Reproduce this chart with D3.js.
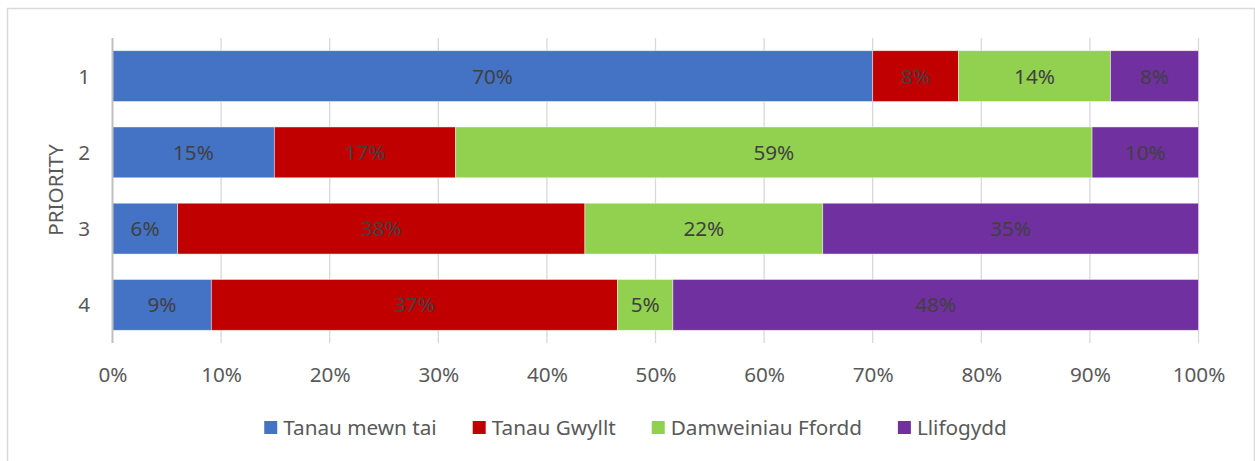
<!DOCTYPE html>
<html>
<head>
<meta charset="utf-8">
<script src="https://cdn.jsdelivr.net/npm/d3@7"></script>
<style>
  html, body { margin: 0; padding: 0; background: #fff; }
  svg { display: block; }
  text { font-family: "Noto Sans", sans-serif; }
</style>
</head>
<body>
<svg id="chart" width="1255" height="461"></svg>
<script>
// ---- data ----
const categories = ["1", "2", "3", "4"];
const seriesNames = ["Tanau mewn tai", "Tanau Gwyllt", "Damweiniau Ffordd", "Llifogydd"];
const tanauMewnTai     = [70.0, 14.9, 6.0, 9.1];
const tanauGwyllt      = [7.9, 16.7, 37.5, 37.4];
const damweiniauFfordd = [14.0, 58.6, 21.9, 5.1];
const llifogydd        = [8.1, 9.8, 34.6, 48.4];
const tickValues = [0, 10, 20, 30, 40, 50, 60, 70, 80, 90, 100];
const axisTitle = "PRIORITY";
const colors = ["#4472C4", "#C00000", "#92D050", "#7030A0"];

const seriesValues = [tanauMewnTai, tanauGwyllt, damweiniauFfordd, llifogydd];
const rows = categories.map((c, i) => {
  const r = { cat: c };
  seriesNames.forEach((s, j) => r[s] = seriesValues[j][i]);
  return r;
});

const svg = d3.select("#chart");
const FS = 20.7;

// outer border
svg.append("rect")
  .attr("x", 7.5).attr("y", 8.5)
  .attr("width", 1247).attr("height", 470)
  .attr("fill", "#fff").attr("stroke", "#d9d9d9").attr("stroke-width", 1.5);

const x = d3.scaleLinear().domain([0, 100]).range([112.5, 1198.5]);
const y = d3.scaleBand().domain(categories).range([38, 343]).paddingInner(1/3).paddingOuter(1/6);

// gridlines
svg.append("g").selectAll("line").data(tickValues.filter(t => t > 0)).join("line")
  .attr("x1", d => x(d)).attr("x2", d => x(d))
  .attr("y1", 38).attr("y2", 343)
  .attr("stroke", "#d9d9d9").attr("stroke-width", 1.3);

// stacked bars
const stack = d3.stack().keys(seriesNames)(rows);
const layers = svg.append("g").selectAll("g").data(stack).join("g")
  .attr("fill", (d, i) => colors[i]);
layers.selectAll("rect").data(d => d).join("rect")
  .attr("x", d => x(d[0]))
  .attr("y", d => y(d.data.cat))
  .attr("width", d => x(d[1]) - x(d[0]))
  .attr("height", y.bandwidth())
  .attr("stroke", "#ffffff").attr("stroke-width", 0.75).attr("stroke-opacity", 0.6);

// data labels
layers.selectAll("text").data(d => d).join("text")
  .attr("x", d => (x(d[0]) + x(d[1])) / 2)
  .attr("y", d => y(d.data.cat) + y.bandwidth() / 2)
  .attr("dy", "0.36em")
  .attr("text-anchor", "middle")
  .attr("fill", "#404040")
  .attr("font-size", FS)
  .text(d => Math.round(d[1] - d[0]) + "%");

// zero axis line
svg.append("line")
  .attr("x1", x(0)).attr("x2", x(0)).attr("y1", 38).attr("y2", 343)
  .attr("stroke", "#bfbfbf").attr("stroke-width", 2);

// x axis tick labels
const xAxis = d3.axisBottom(x).tickValues(tickValues).tickSize(0).tickPadding(0)
  .tickFormat(d => d + "%");
const gx = svg.append("g").attr("transform", "translate(0,375)").call(xAxis);
gx.select(".domain").remove();
gx.selectAll("text").attr("font-size", FS).attr("fill", "#595959")
  .attr("font-family", "Noto Sans").attr("dy", "0.36em").attr("y", 0);

// y axis category labels
const yAxis = d3.axisLeft(y).tickSize(0).tickPadding(0);
const gy = svg.append("g").attr("transform", "translate(90,0)").call(yAxis);
gy.select(".domain").remove();
gy.selectAll("text").attr("font-size", FS).attr("fill", "#595959")
  .attr("font-family", "Noto Sans").attr("dy", "0.36em").attr("x", 0);

// axis title
svg.append("text")
  .attr("transform", "translate(56,190) rotate(-90)")
  .attr("text-anchor", "middle").attr("dy", "0.36em")
  .attr("font-size", FS).attr("fill", "#595959")
  .text(axisTitle);

// legend
const legend = svg.append("g");
const sq = 13, gap = 6, itemGap = 36;
let cx = 0;
seriesNames.forEach((s, i) => {
  const g = legend.append("g");
  g.append("rect").attr("x", cx).attr("y", -7).attr("width", sq).attr("height", sq).attr("fill", colors[i]);
  const t = g.append("text").attr("x", cx + sq + gap).attr("y", 0).attr("dy", "0.36em")
    .attr("font-size", FS).attr("fill", "#595959").text(s);
  const w = t.node().getComputedTextLength();
  cx += sq + gap + w + itemGap;
});
const totalW = cx - itemGap;
legend.attr("transform", `translate(${635.5 - totalW / 2},428)`);
</script>
</body>
</html>
